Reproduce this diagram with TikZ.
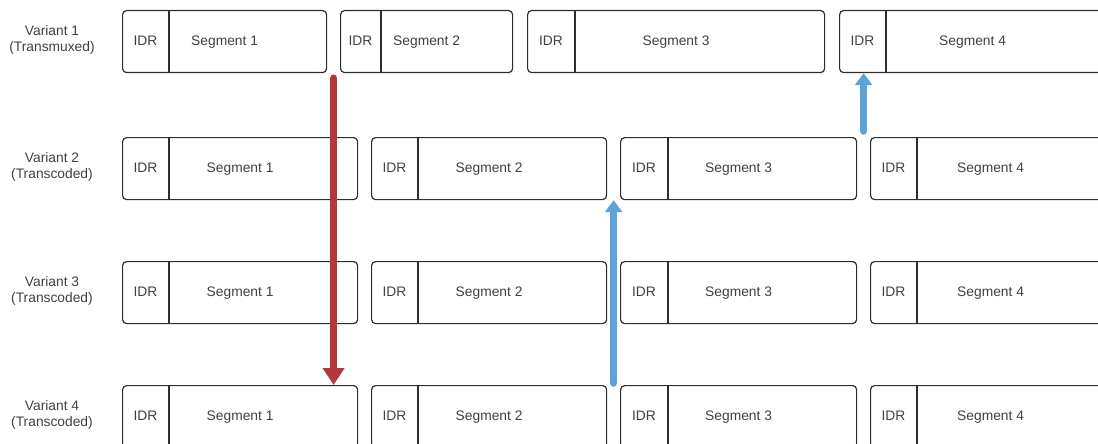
\documentclass[tikz,border=0pt]{standalone}
\usepackage{fontspec}
\setmainfont{Liberation Sans}
\usetikzlibrary{arrows.meta,calc}
\definecolor{boxline}{HTML}{2E2E2E}
\definecolor{txt}{HTML}{404040}
\definecolor{switchdown}{HTML}{B3383D}
\definecolor{switchup}{HTML}{5CA4D8}
\begin{document}
\begin{tikzpicture}[x=1pt,y=-1pt,
  segbox/.style={draw=boxline, line width=1.2pt, rounded corners=4pt,
    minimum height=62pt, inner sep=0pt, anchor=north west,
    font=\fontsize{13.8}{15}\selectfont, text=txt, text height=10pt, text depth=3pt},
  divline/.style={draw=boxline, line width=1.2pt},
  idrlbl/.style={font=\fontsize{13.8}{15}\selectfont, text=txt, inner sep=0pt,
    text height=10pt, text depth=3pt},
  varlbl/.style={font=\fontsize{13.8}{16}\selectfont, text=txt, align=center, inner sep=0pt},
  downswitch/.style={line width=7.5pt, line cap=round, draw=switchdown, fill=switchdown,
    -{Triangle[length=17pt,width=21pt]}},
  upswitch/.style={line width=7.5pt, line cap=round, draw=switchup, fill=switchup,
    -{Triangle[length=12pt,width=17pt]}}]
\useasboundingbox (0,0) rectangle (1098,444);
\clip (0,0) rectangle (1098,444);

% variant labels
\node[varlbl] (v1) at (52,40) {Variant 1\\(Transmuxed)};
\node[varlbl] (v2) at (52,167) {Variant 2\\(Transcoded)};
\node[varlbl] (v3) at (52,291) {Variant 3\\(Transcoded)};
\node[varlbl] (v4) at (52,415) {Variant 4\\(Transcoded)};

% variant 1: transmuxed segments of uneven length
\foreach \i/\a/\b/\d in {1/122/326/47, 2/340/512/41, 3/527/824/48, 4/839/1105/47} {
  \node[segbox, minimum width={(\b-\a)*1pt}] (r1s\i) at (\a,10) {Segment \i};
  \draw[divline] ($(r1s\i.north west)+(\d,0)$) -- ($(r1s\i.south west)+(\d,0)$);
  \node[idrlbl] (idr1\i) at ($(r1s\i.west)+(\d/2,0)$) {IDR};
}

% variants 2-4: transcoded segments aligned on common boundaries
\foreach \r/\y in {2/137, 3/261, 4/385} {
  \foreach \i/\a/\b/\d in {1/122/357/47, 2/371/606/47, 3/620/856/48, 4/870/1110/47} {
    \node[segbox, minimum width={(\b-\a)*1pt}] (r\r s\i) at (\a,\y) {Segment \i};
    \draw[divline] ($(r\r s\i.north west)+(\d,0)$) -- ($(r\r s\i.south west)+(\d,0)$);
    \node[idrlbl] (idr\r\i) at ($(r\r s\i.west)+(\d/2,0)$) {IDR};
  }
}

% switching points
\coordinate (gapA) at ($(r1s1.south east)!0.5!(r1s2.south west)+(0,5)$);
\draw[downswitch] (gapA) -- (gapA |- r4s1.north);

\coordinate (gapB) at ($(r4s2.north east)!0.5!(r4s3.north west)+(0,-2)$);
\draw[upswitch] (gapB) -- (gapB |- r2s2.south);

\coordinate (gapC) at ($(r2s3.north east)!0.5!(r2s4.north west)+(0,-6)$);
\draw[upswitch] (gapC) -- (gapC |- r1s4.south);
\end{tikzpicture}
\end{document}
